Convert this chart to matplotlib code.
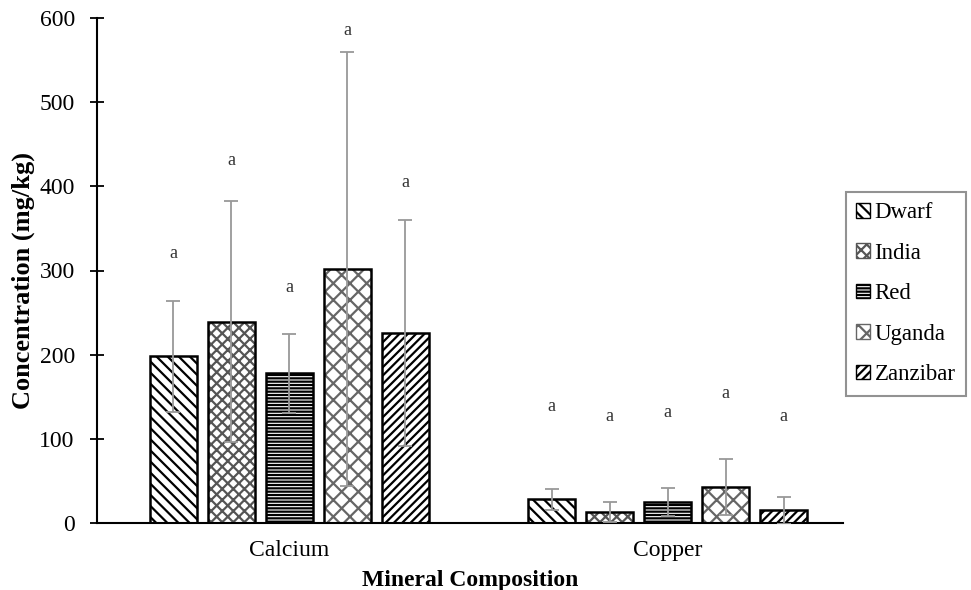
import numpy as np
import matplotlib
matplotlib.use("Agg")
import matplotlib.pyplot as plt
from matplotlib.patches import Patch

plt.rcParams["font.family"] = ["Liberation Serif", "DejaVu Serif"]
plt.rcParams["hatch.linewidth"] = 1.6

minerals = ["Calcium", "Copper"]
varieties = ["Dwarf", "India", "Red", "Uganda", "Zanzibar"]

# means per variety: [Calcium, Copper]
means = {
    "Dwarf": [198, 28],
    "India": [239, 13],
    "Red": [178, 25],
    "Uganda": [302, 43],
    "Zanzibar": [226, 15],
}
sds = {
    "Dwarf": [66, 12],
    "India": [143, 12],
    "Red": [47, 17],
    "Uganda": [258, 33],
    "Zanzibar": [134, 16],
}
# letter label heights
letter_y = {
    "Dwarf": [320, 138],
    "India": [431, 126],
    "Red": [280, 131],
    "Uganda": [585, 154],
    "Zanzibar": [404, 126],
}

hatches = {
    "Dwarf": ("\\\\\\", "black"),
    "India": ("xxx", "#555555"),
    "Red": ("-----", "black"),
    "Uganda": ("xx", "#666666"),
    "Zanzibar": ("////", "black"),
}

fig = plt.figure(figsize=(9.71, 5.90), dpi=100)
ax = fig.add_axes([97 / 971, 1 - 523 / 590, (843 - 97) / 971, (523 - 18) / 590])

x = np.arange(len(minerals))
step = 0.1534
width = 0.1243

for i, v in enumerate(varieties):
    pos = x + (i - 2) * step
    h, hc = hatches[v]
    ax.bar(pos, means[v], width, color="white", edgecolor=hc, hatch=h, linewidth=0, zorder=2)
    ax.bar(pos, means[v], width, color="none", edgecolor="black", linewidth=1.8, zorder=3)
    ax.errorbar(pos, means[v], yerr=sds[v], fmt="none", ecolor="#999999",
                elinewidth=1.3, capsize=5, capthick=1.3, zorder=4)
    for px, py in zip(pos, letter_y[v]):
        ax.text(px, py, "a", ha="center", va="center", fontsize=13, color="#333333")

ax.set_xlim(-0.509, 1.464)
ax.set_ylim(0, 600)
ax.set_yticks(np.arange(0, 601, 100))
ax.set_xticks(x)
ax.set_xticklabels(minerals, fontsize=17)
ax.tick_params(axis="x", length=0, pad=12)
ax.tick_params(axis="y", direction="inout", length=10, width=1.3, labelsize=17, pad=11)
for s in ["top", "right"]:
    ax.spines[s].set_visible(False)
ax.spines["left"].set_linewidth(1.5)
ax.spines["bottom"].set_linewidth(1.5)

ax.set_ylabel("Concentration (mg/kg)", fontsize=19, fontweight="bold")
ax.yaxis.set_label_coords(-0.083, 0.481)
ax.set_xlabel("Mineral Composition", fontsize=17, fontweight="bold", labelpad=7)

handles = [Patch(facecolor="white", edgecolor=hatches[v][1], hatch=hatches[v][0], label=v)
           for v in varieties]
leg = fig.legend(handles=handles, loc="upper left", bbox_to_anchor=(846 / 971, 1 - 192 / 590),
                 fontsize=16.5, frameon=True, fancybox=False, edgecolor="#777777",
                 handlelength=0.6, handleheight=0.6, handletextpad=0.2, labelspacing=0.85,
                 borderpad=0.45, borderaxespad=0)
leg.get_frame().set_linewidth(1.5)

fig.savefig("out.png", dpi=100)
